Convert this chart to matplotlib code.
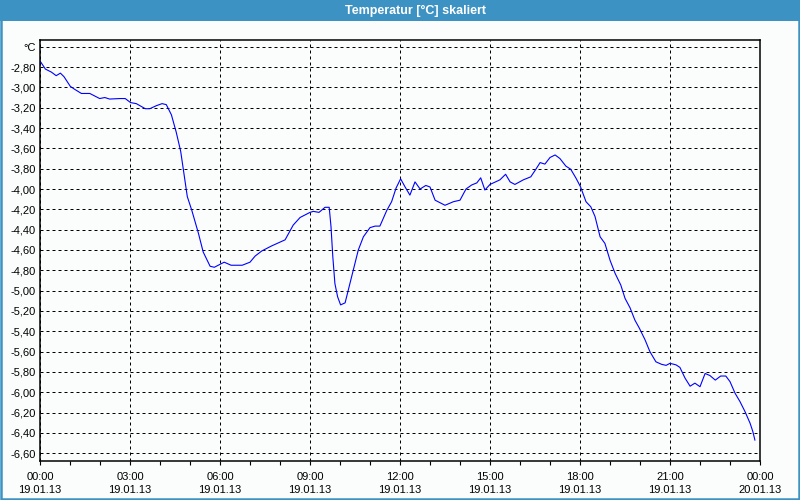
import matplotlib
matplotlib.use('Agg')
import matplotlib.pyplot as plt
from matplotlib.patches import Rectangle
from matplotlib.ticker import MultipleLocator

plt.rcParams['font.family'] = ['Liberation Sans', 'DejaVu Sans']

# hours since 19.01.13 00:00
hours = [0.0, 0.18, 0.38, 0.54, 0.68, 0.8, 1.01, 1.16, 1.38, 1.66, 1.99, 2.16, 2.32, 2.66, 2.84,
         3.02, 3.21, 3.51, 3.66, 3.88, 4.07, 4.21, 4.38, 4.54, 4.69, 4.79, 4.91, 5.06, 5.28, 5.44,
         5.67, 5.81, 5.94, 6.14, 6.37, 6.74, 7.0, 7.17, 7.39, 7.72, 8.17, 8.44, 8.67, 9.0, 9.11,
         9.3, 9.5, 9.64, 9.7, 9.76, 9.83, 9.92, 10.02, 10.17, 10.39, 10.61, 10.78, 11.0, 11.17,
         11.33, 11.56, 11.72, 11.87, 12.02, 12.17, 12.33, 12.5, 12.67, 12.86, 13.0, 13.17, 13.5,
         13.78, 14.0, 14.2, 14.39, 14.56, 14.69, 14.83, 15.0, 15.33, 15.52, 15.67, 15.83, 16.11,
         16.36, 16.53, 16.67, 16.83, 17.0, 17.17, 17.33, 17.53, 17.69, 17.87, 18.02, 18.2, 18.36,
         18.5, 18.67, 18.83, 19.0, 19.17, 19.36, 19.5, 19.67, 19.83, 19.98, 20.17, 20.33, 20.53,
         20.72, 20.87, 21.0, 21.2, 21.33, 21.5, 21.67, 21.83, 22.0, 22.17, 22.33, 22.51, 22.69,
         22.86, 23.0, 23.17, 23.33, 23.5, 23.67, 23.76, 23.83]
temps = [-2.74, -2.82, -2.85, -2.885, -2.86, -2.895, -2.99, -3.02, -3.06, -3.06, -3.11, -3.10,
         -3.115, -3.11, -3.11, -3.15, -3.16, -3.21, -3.21, -3.18, -3.16, -3.17, -3.27, -3.44,
         -3.63, -3.83, -4.075, -4.21, -4.435, -4.62, -4.76, -4.77, -4.75, -4.72, -4.75, -4.75,
         -4.72, -4.66, -4.61, -4.56, -4.50, -4.355, -4.28, -4.23, -4.22, -4.23, -4.18, -4.18,
         -4.37, -4.665, -4.93, -5.06, -5.14, -5.12, -4.86, -4.60, -4.47, -4.38, -4.365, -4.365,
         -4.21, -4.125, -3.99, -3.90, -3.98, -4.06, -3.93, -4.00, -3.965, -3.98, -4.11, -4.16,
         -4.125, -4.11, -4.00, -3.96, -3.94, -3.89, -4.01, -3.955, -3.91, -3.855, -3.93, -3.955,
         -3.91, -3.88, -3.805, -3.74, -3.755, -3.69, -3.665, -3.70, -3.775, -3.805, -3.895, -3.98,
         -4.125, -4.175, -4.27, -4.47, -4.535, -4.70, -4.83, -4.945, -5.075, -5.17, -5.29, -5.37,
         -5.485, -5.60, -5.70, -5.725, -5.735, -5.715, -5.73, -5.755, -5.86, -5.94, -5.91, -5.945,
         -5.815, -5.835, -5.88, -5.84, -5.84, -5.895, -6.01, -6.09, -6.19, -6.305, -6.385, -6.47]

x_ticks = [0, 3, 6, 9, 12, 15, 18, 21, 24]
x_labels = ['00:00\n19.01.13', '03:00\n19.01.13', '06:00\n19.01.13', '09:00\n19.01.13',
            '12:00\n19.01.13', '15:00\n19.01.13', '18:00\n19.01.13', '21:00\n19.01.13',
            '00:00\n20.01.13']
y_ticks = [-2.6 - 0.2 * i for i in range(21)]
y_labels = ['°C'] + [f'{v:.2f}'.replace('.', ',') for v in y_ticks[1:]]

blue = '#3d92c4'
bg = '#fbfdfc'

fig = plt.figure(figsize=(8, 5), dpi=100, facecolor=bg)
fig.add_artist(Rectangle((0, 1 - 21 / 500), 1, 21 / 500, transform=fig.transFigure,
                         facecolor=blue, edgecolor='none'))
fig.add_artist(Rectangle((0.001, 0.002), 0.998, 0.996, transform=fig.transFigure,
                         facecolor='none', edgecolor=blue, lw=1.8))
fig.text(415 / 800, 1 - 10.5 / 500, 'Temperatur [°C] skaliert', color='white',
         fontsize=9, fontweight='bold', ha='center', va='center')

ax = fig.add_axes([40 / 800, 1 - 461 / 500, 720 / 800, 421 / 500])
ax.set_facecolor(bg)
ax.plot(hours, temps, color='#0000ff', lw=0.8)

ax.set_xlim(0, 24)
ax.set_ylim(-6.676, -2.534)
ax.set_xticks(x_ticks)
ax.set_xticklabels(x_labels, fontsize=8, linespacing=1.35)
ax.xaxis.set_minor_locator(MultipleLocator(1))
ax.set_yticks(y_ticks)
ax.set_yticklabels(y_labels, fontsize=8)
ax.tick_params(axis='x', which='both', length=3, width=0.8, direction='out', pad=5)
ax.tick_params(axis='y', length=0, pad=3)
ax.grid(True, which='major', color='black', linestyle=(0, (3, 3)), lw=0.72)
for s in ax.spines.values():
    s.set_linewidth(1.1)

fig.savefig('out.png', dpi=100, facecolor=bg)
